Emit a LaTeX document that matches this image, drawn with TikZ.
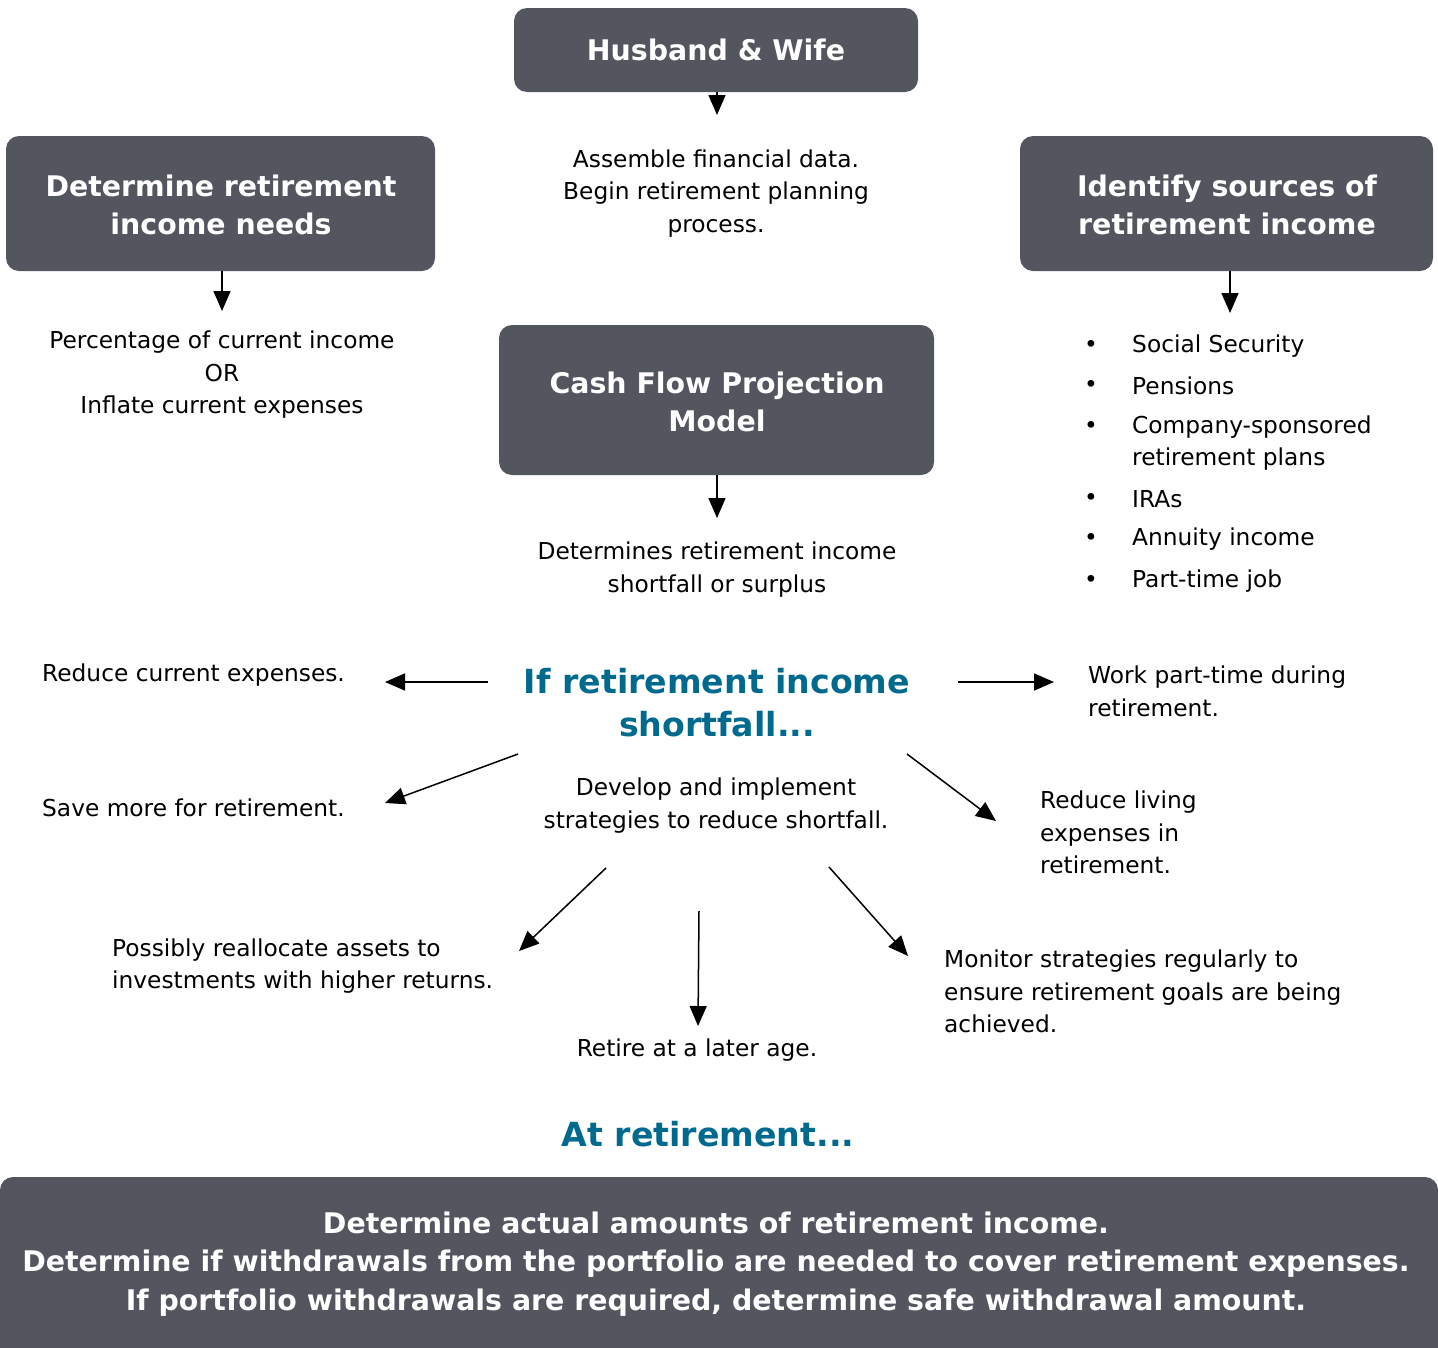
\documentclass[tikz,border=0pt]{standalone}
\usepackage{fontspec}
\setmainfont{DejaVu Sans}
\usetikzlibrary{arrows.meta}
\definecolor{boxgray}{HTML}{53565E}
\definecolor{teal}{HTML}{006A8E}
\tikzset{
  x=1pt, y=-1pt,
  darkbox/.style={fill=boxgray, draw=none, rounded corners=13pt},
  boxtext/.style={text=white, font=\fontsize{28.4}{38.5}\selectfont\bfseries, align=center, inner sep=0pt},
  body/.style={text=black, font=\fontsize{23.3}{32.5}\selectfont, inner sep=0pt},
  bodyc/.style={body, align=center},
  bodyl/.style={body, align=left, anchor=west},
  tealtext/.style={text=teal, font=\fontsize{33.2}{43}\selectfont\bfseries, align=center, inner sep=0pt},
  arr/.style={line width=1.5pt, -{Triangle[length=20pt,width=17pt]}},
}
\begin{document}
\begin{tikzpicture}
\useasboundingbox (0,0) rectangle (1438,1347);

% boxes
\fill[darkbox] (514,8) rectangle (918,92);
\node[boxtext] (hw) at (716,50) {Husband \& Wife};
\fill[darkbox] (6,136) rectangle (435,271);
\node[boxtext] (needs) at (221,205) {Determine retirement\\income needs};
\fill[darkbox] (1020,136) rectangle (1433,271);
\node[boxtext] (sources) at (1227,205) {Identify sources of\\retirement income};
\fill[darkbox] (499,325) rectangle (934,475);
\node[boxtext] (cf) at (717,402) {Cash Flow Projection\\Model};
\fill[darkbox] (0,1177) rectangle (1438,1400);
\node[boxtext] (final) at (716,1264) {Determine actual amounts of retirement income.\\Determine if withdrawals from the portfolio are needed to cover retirement expenses.\\If portfolio withdrawals are required, determine safe withdrawal amount.};

% texts
\node[bodyc] (assemble) at (716,193.5) {Assemble financial data.\\Begin retirement planning\\process.};
\node[bodyc] (pct) at (222,375) {Percentage of current income\\OR\\Inflate current expenses};
\node[bodyc] (det) at (717,569.5) {Determines retirement income\\shortfall or surplus};
\node[tealtext] (short) at (717,703) {If retirement income\\shortfall...};
\node[bodyc] (develop) at (716,805.5) {Develop and implement\\strategies to reduce shortfall.};
\node[tealtext] (atret) at (708,1134) {At retirement...};

% bullet list
\foreach \yy/\t in {346/Social Security, 386/Pensions, 427/Company-sponsored, 459/retirement plans, 499/IRAs, 539/Annuity income, 581/Part-time job}{
  \node[bodyl] (li\yy) at (1132,\yy) {\t};
}
\foreach \yy in {346,386,427,499,539,581}{
  \node[bodyl] (bu\yy) at (1084,\yy) {\textbullet};
}

\node[bodyl] (reduce) at (42,675) {Reduce current expenses.};
\node[bodyl] (work) at (1088,691.5) {Work part-time during\\retirement.};
\node[bodyl] (save) at (42,808) {Save more for retirement.};
\node[bodyl] (living) at (1040,832.5) {Reduce living\\expenses in\\retirement.};
\node[bodyl] (realloc) at (112,966) {Possibly reallocate assets to\\investments with higher returns.};
\node[bodyc] (later) at (697,1050) {Retire at a later age.};
\node[bodyl] (monitor) at (944,991.5) {Monitor strategies regularly to\\ensure retirement goals are being\\achieved.};

% connector coordinates
\coordinate (a1s) at (717,92);   \coordinate (a1e) at (717,115);
\coordinate (a2s) at (222,271);  \coordinate (a2e) at (222,311);
\coordinate (a3s) at (1230,271); \coordinate (a3e) at (1230,313);
\coordinate (a4s) at (717,475);  \coordinate (a4e) at (717,518);
\coordinate (a5s) at (488,682);  \coordinate (a5e) at (385,682);
\coordinate (a6s) at (958,682);  \coordinate (a6e) at (1054,682);
\coordinate (a7s) at (518,754);  \coordinate (a7e) at (385,803);
\coordinate (a8s) at (907,754);  \coordinate (a8e) at (996,821);
\coordinate (a9s) at (606,868);  \coordinate (a9e) at (519,951);
\coordinate (a10s) at (699,911); \coordinate (a10e) at (698,1026);
\coordinate (a11s) at (829,867); \coordinate (a11e) at (908,956);

\foreach \i in {1,...,11}{ \draw[arr] (a\i s) -- (a\i e); }
\end{tikzpicture}
\end{document}
